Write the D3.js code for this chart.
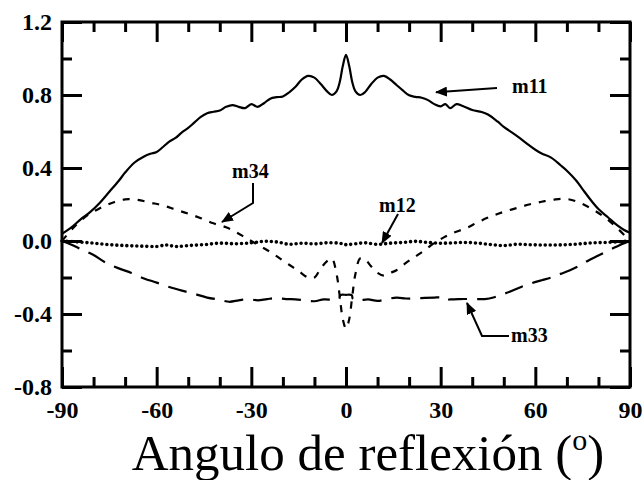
<!DOCTYPE html>
<html>
<head>
<meta charset="utf-8">
<script src="https://cdn.jsdelivr.net/npm/d3@7"></script>
<style>
  body { margin: 0; background: #fff; }
  svg { display: block; }
</style>
</head>
<body>
<svg id="chart" width="644" height="480"></svg>
<script>
// Mueller matrix elements versus reflection angle (degrees)
const m11Angles = [-90,-87,-84,-81,-78,-75,-72,-70,-67,-64,-62,-60,-58,-56,-54,-52,-50,-48,-46,-44,-42,-40,-38,-36,-34,-32,-30,-28,-26,-24,-22,-20,-18,-16,-14,-12,-10,-8,-6,-4.5,-3,-2,-1,0,1,2,3,4.5,6,8,10,12,14,16,18,20,22,24,26,28,30,31.5,33,35,37,40,43,45,48,50,53,55,58,60,62,65,68,70,73,75,78,80,83,86,88,90];
const m11Values = [0.04,0.075,0.12,0.16,0.21,0.27,0.33,0.375,0.43,0.463,0.478,0.488,0.515,0.545,0.565,0.595,0.62,0.65,0.68,0.70,0.708,0.715,0.735,0.745,0.735,0.728,0.75,0.735,0.755,0.78,0.788,0.792,0.815,0.845,0.885,0.905,0.895,0.86,0.82,0.80,0.82,0.87,0.96,1.02,0.96,0.87,0.82,0.80,0.815,0.86,0.895,0.905,0.885,0.855,0.825,0.798,0.79,0.785,0.772,0.75,0.738,0.75,0.728,0.75,0.74,0.718,0.707,0.693,0.655,0.625,0.59,0.565,0.525,0.50,0.48,0.457,0.415,0.385,0.33,0.283,0.215,0.175,0.13,0.085,0.062,0.045];

const m12Angles = [-90,-85,-80,-75,-70,-65,-60,-57,-54,-50,-45,-40,-35,-30,-26,-22,-18,-14,-10,-6,-2,0,3,6,10,14,18,22,26,30,34,38,42,46,50,54,58,62,66,70,74,78,82,86,90];
const m12Values = [0.0,-0.005,-0.012,-0.02,-0.025,-0.028,-0.03,-0.022,-0.03,-0.025,-0.02,-0.012,-0.015,-0.01,-0.002,-0.005,-0.018,-0.012,-0.016,-0.01,-0.012,-0.02,-0.015,-0.01,-0.018,-0.012,-0.008,-0.002,-0.008,-0.012,-0.01,-0.008,-0.012,-0.02,-0.025,-0.018,-0.02,-0.022,-0.022,-0.02,-0.016,-0.01,-0.008,-0.005,0.0];

const m33Angles = [-90,-87,-84,-80,-76,-72,-68,-64,-60,-56,-52,-48,-44,-40,-37,-34,-31,-28,-25,-22,-19,-16,-13,-10,-7,-4,-2.2,-1.8,0,1.8,2.2,4,7,10,13,16,19,22,25,28,30,31,33,36,40,44,47,50,53,56,59,62,65,68,71,74,77,80,84,87,90];
const m33Values = [0.0,-0.02,-0.045,-0.077,-0.12,-0.15,-0.175,-0.205,-0.228,-0.252,-0.272,-0.29,-0.31,-0.322,-0.333,-0.325,-0.318,-0.325,-0.318,-0.313,-0.318,-0.32,-0.325,-0.33,-0.32,-0.322,-0.318,-0.297,-0.295,-0.297,-0.318,-0.325,-0.32,-0.328,-0.318,-0.31,-0.315,-0.315,-0.312,-0.31,-0.31,-0.325,-0.32,-0.318,-0.318,-0.318,-0.308,-0.29,-0.27,-0.248,-0.23,-0.215,-0.2,-0.18,-0.16,-0.135,-0.105,-0.08,-0.045,-0.02,0.0];

const m34Angles = [-90,-86,-82,-78,-74,-70,-66,-62,-58,-54,-50,-46,-42,-38,-35,-32,-30,-27,-24,-21,-18,-15,-12,-10,-8,-6,-4.5,-3,-2,-1,0,1,2,3,4.5,6,8,10,12,14,16,19,22,25,28,31,34,38,42,46,50,54,58,62,66,70,74,78,82,86,90];
const m34Values = [0.0,0.08,0.14,0.18,0.21,0.228,0.225,0.21,0.195,0.172,0.15,0.125,0.097,0.075,0.05,0.02,0.0,-0.03,-0.06,-0.095,-0.13,-0.165,-0.2,-0.2,-0.15,-0.11,-0.095,-0.18,-0.3,-0.43,-0.48,-0.43,-0.3,-0.18,-0.095,-0.1,-0.14,-0.175,-0.19,-0.175,-0.16,-0.12,-0.085,-0.05,-0.01,0.02,0.045,0.07,0.105,0.135,0.16,0.18,0.2,0.215,0.227,0.23,0.21,0.175,0.13,0.07,0.0];

const xMajorTicks = [-90,-60,-30,0,30,60,90];
const xTickLabels = ["-90","-60","-30","0","30","60","90"];
const xMinorTicks = [-80,-70,-50,-40,-20,-10,10,20,40,50,70,80];
const yMajorTicks = [-0.8,-0.4,0.0,0.4,0.8,1.2];
const yMinorTicks = [-0.6,-0.2,0.2,0.6,1.0];
const yTickLabels = ["-0.8","-0.4","0.0","0.4","0.8","1.2"];

const seriesLabels = ["m11","m12","m33","m34"];
const xTitleMain = "Angulo de reflexión (";
const xTitleSup = "o";
const xTitleEnd = ")";

const svg = d3.select("#chart");
const plotLeft = 62, plotRight = 630, plotTop = 22, plotBottom = 387;

const x = d3.scaleLinear().domain([-90, 90]).range([plotLeft, plotRight]);
const y = d3.scaleLinear().domain([-0.8, 1.2]).range([plotBottom, plotTop]);

const serifFont = "'Liberation Serif', 'Times New Roman', serif";

// Axis helper: ticks point inward, domain path replaced by the frame
function styleAxis(g) {
  g.select(".domain").remove();
  g.selectAll(".tick line").attr("stroke", "#000").attr("stroke-width", 3);
  g.selectAll(".tick text")
    .attr("fill", "#000")
    .attr("font-family", serifFont)
    .attr("font-weight", "bold")
    .attr("font-size", 24);
}

// bottom
svg.append("g").attr("transform", `translate(0,${plotBottom})`)
  .call(d3.axisBottom(x).tickValues(xMajorTicks).tickSizeInner(-20).tickSizeOuter(0).tickPadding(14)
    .tickFormat((d, i) => xTickLabels[i]))
  .call(styleAxis);
svg.append("g").attr("transform", `translate(0,${plotBottom})`)
  .call(d3.axisBottom(x).tickValues(xMinorTicks).tickSizeInner(-10).tickSizeOuter(0).tickFormat(""))
  .call(styleAxis);
// top
svg.append("g").attr("transform", `translate(0,${plotTop})`)
  .call(d3.axisTop(x).tickValues(xMajorTicks).tickSizeInner(-20).tickSizeOuter(0).tickFormat(""))
  .call(styleAxis);
svg.append("g").attr("transform", `translate(0,${plotTop})`)
  .call(d3.axisTop(x).tickValues(xMinorTicks).tickSizeInner(-10).tickSizeOuter(0).tickFormat(""))
  .call(styleAxis);
// left
svg.append("g").attr("transform", `translate(${plotLeft},0)`)
  .call(d3.axisLeft(y).tickValues(yMajorTicks).tickSizeInner(-20).tickSizeOuter(0).tickPadding(10)
    .tickFormat((d, i) => yTickLabels[i]))
  .call(styleAxis);
svg.append("g").attr("transform", `translate(${plotLeft},0)`)
  .call(d3.axisLeft(y).tickValues(yMinorTicks).tickSizeInner(-10).tickSizeOuter(0).tickFormat(""))
  .call(styleAxis);
// right
svg.append("g").attr("transform", `translate(${plotRight},0)`)
  .call(d3.axisRight(y).tickValues(yMajorTicks).tickSizeInner(-20).tickSizeOuter(0).tickFormat(""))
  .call(styleAxis);
svg.append("g").attr("transform", `translate(${plotRight},0)`)
  .call(d3.axisRight(y).tickValues(yMinorTicks).tickSizeInner(-10).tickSizeOuter(0).tickFormat(""))
  .call(styleAxis);

// frame
svg.append("rect")
  .attr("x", plotLeft).attr("y", plotTop)
  .attr("width", plotRight - plotLeft).attr("height", plotBottom - plotTop)
  .attr("fill", "none").attr("stroke", "#000").attr("stroke-width", 3);

// curves
const line = d3.line()
  .x(d => x(d[0]))
  .y(d => y(d[1]))
  .curve(d3.curveCatmullRom.alpha(0.5));

function zipSeries(a, v) { return a.map((d, i) => [d, v[i]]); }

const plot = svg.append("g").attr("fill", "none").attr("stroke", "#000");

plot.append("path")
  .attr("d", line(zipSeries(m11Angles, m11Values)))
  .attr("stroke-width", 2.2);

plot.append("path")
  .attr("d", line(zipSeries(m34Angles, m34Values)))
  .attr("stroke-width", 2.2)
  .attr("stroke-dasharray", "7,8");

plot.append("path")
  .attr("d", line(zipSeries(m33Angles, m33Values)))
  .attr("stroke-width", 2.2)
  .attr("stroke-dasharray", "19,10");

plot.append("path")
  .attr("d", line(zipSeries(m12Angles, m12Values)))
  .attr("stroke-width", 3.6)
  .attr("stroke-linecap", "round")
  .attr("stroke-dasharray", "0,5");

// annotations: label position and leader polyline ending in an arrow
svg.append("defs").append("marker")
  .attr("id", "head")
  .attr("viewBox", "0 0 12 10")
  .attr("refX", 11).attr("refY", 5)
  .attr("markerWidth", 12).attr("markerHeight", 10)
  .attr("markerUnits", "userSpaceOnUse")
  .attr("orient", "auto")
  .append("path").attr("d", "M0,0 L12,5 L0,10 Z").attr("fill", "#000");

const notes = [
  { label: seriesLabels[0], tx: 512, ty: 93, path: [[497, 88], [436, 92.3]] },
  { label: seriesLabels[1], tx: 379, ty: 212, path: [[398, 214], [382, 243]] },
  { label: seriesLabels[2], tx: 511, ty: 342, path: [[509, 336], [482, 336], [467, 303]] },
  { label: seriesLabels[3], tx: 232, ty: 178, path: [[253, 183], [253, 203], [222, 222]] }
];

notes.forEach(n => {
  svg.append("path")
    .attr("d", d3.line()(n.path))
    .attr("fill", "none").attr("stroke", "#000").attr("stroke-width", 2)
    .attr("marker-end", "url(#head)");
  svg.append("text")
    .attr("x", n.tx).attr("y", n.ty)
    .attr("font-family", serifFont).attr("font-weight", "bold").attr("font-size", 20)
    .text(n.label);
});

// axis title
const title = svg.append("text")
  .attr("x", 368).attr("y", 470)
  .attr("text-anchor", "middle")
  .attr("font-family", serifFont)
  .attr("font-size", 51)
  .attr("fill", "#000");
title.append("tspan").text(xTitleMain);
title.append("tspan").attr("font-size", 30).attr("dy", -20).text(xTitleSup);
title.append("tspan").attr("dy", 20).text(xTitleEnd);
</script>
</body>
</html>
